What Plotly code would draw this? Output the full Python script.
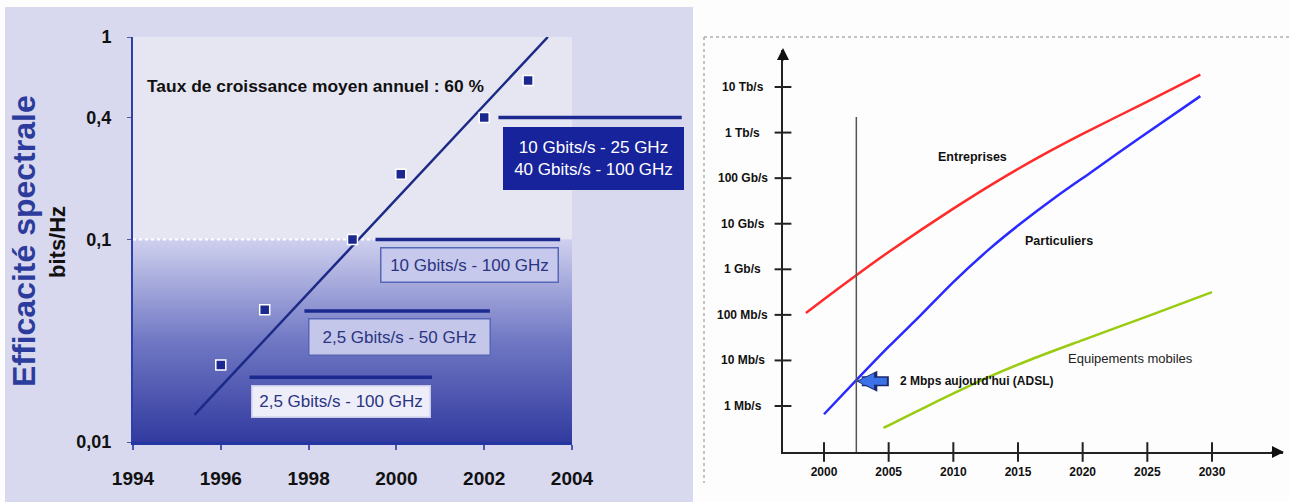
import math
import plotly.graph_objects as go

W, H = 1289, 502
FONT = "Arial, Liberation Sans, sans-serif"

# ---------------- Spectral efficiency (left panel) ----------------
eff_years = [1996, 1997, 1999, 2000.1, 2002, 2003]
eff_values = [0.024, 0.045, 0.1, 0.21, 0.4, 0.61]
trend_years = [1995.4, 2003.45]
trend_values = [0.0136, 1.0]
eff_xticks = [1994, 1996, 1998, 2000, 2002, 2004]
eff_yticks = [0.01, 0.1, 0.4, 1]
eff_yticktext = ["0,01", "0,1", "0,4", "1"]

# WDM systems: label, efficiency level, bar start / end year
sys_labels = [
    "10 Gbits/s - 25 GHz<br>40 Gbits/s - 100 GHz",
    "10 Gbits/s - 100 GHz",
    "2,5 Gbits/s - 50 GHz",
    "2,5 Gbits/s - 100 GHz",
]
sys_levels = [0.4, 0.1, 0.0443, 0.0209]
sys_bar_start = [2002.29, 1999.49, 1997.87, 1996.62]
sys_bar_end = [2006.5, 2003.73, 2002.13, 2000.81]

# ---------------- Bandwidth needs (right panel), rates in Mb/s ----------------
years_ent = [1998.6, 2000, 2002.5, 2005, 2010, 2013.6, 2017, 2020, 2025, 2029.1]
rate_ent = [110, 219, 741, 2400, 21400, 93000, 331000, 933000, 4.8e6, 1.86e7]
years_part = [2000, 2002.5, 2005, 2007.5, 2010, 2012.8, 2015, 2018, 2020.6, 2024.4, 2029.1]
rate_part = [0.66, 3.7, 20, 100, 525, 2800, 9100, 40000, 132000, 760000, 6.3e6]
years_mob = [2004.6, 2008, 2012.8, 2016, 2020, 2025, 2030]
rate_mob = [0.33, 1.0, 4.4, 10.5, 28, 93, 316]
rate_ticks = [1, 10, 100, 1e3, 1e4, 1e5, 1e6, 1e7]
rate_ticktext = ["1 Mb/s", "10 Mb/s", "100 Mb/s", "1 Gb/s", "10 Gb/s",
                 "100 Gb/s", "1 Tb/s", "10 Tb/s"]
year_ticks = [2000, 2005, 2010, 2015, 2020, 2025, 2030]
today_year = 2002.5
today_top = 2.2e6
adsl_rate = 3.5

# axis extents
X1_RANGE = [1994, 2004]
Y1_RANGE = [-2, 0]
X2_RANGE = [1996.83, 2035.49]
Y2_RANGE = [-1.009, 7.812]


def px(x):
    return x / W


def py(y):
    return 1 - y / H


fig = go.Figure()

# plot-area backgrounds of the left panel
lo, hi = 10 ** Y1_RANGE[0], 10 ** Y1_RANGE[1]
fig.add_trace(go.Scatter(
    x=[X1_RANGE[0], X1_RANGE[1], X1_RANGE[1], X1_RANGE[0], X1_RANGE[0]],
    y=[0.1, 0.1, hi, hi, 0.1], fill="toself", fillcolor="#e6e6f3",
    mode="lines", line=dict(width=0), hoverinfo="skip", xaxis="x", yaxis="y"))
fig.add_trace(go.Scatter(
    x=[X1_RANGE[0], X1_RANGE[1], X1_RANGE[1], X1_RANGE[0], X1_RANGE[0]],
    y=[lo, lo, 0.1, 0.1, lo], fill="toself",
    fillgradient=dict(type="vertical",
                      colorscale=[[0, "#323aa0"], [0.5, "#7078c4"], [1, "#cfd0ee"]]),
    mode="lines", line=dict(width=0), hoverinfo="skip", xaxis="x", yaxis="y"))

# white dotted guide at 0.1
fig.add_trace(go.Scatter(
    x=[X1_RANGE[0], sys_bar_start[1]], y=[0.1, 0.1], mode="lines",
    line=dict(color="white", width=2, dash="dot"), hoverinfo="skip",
    xaxis="x", yaxis="y"))

# trend line and measured points
fig.add_trace(go.Scatter(
    x=trend_years, y=trend_values, mode="lines",
    line=dict(color="#1c2a86", width=2.5), hoverinfo="skip", xaxis="x", yaxis="y"))
fig.add_trace(go.Scatter(
    x=eff_years, y=eff_values, mode="markers",
    marker=dict(symbol="square", size=10, color="#1a2890",
                line=dict(color="white", width=1.5)),
    hoverinfo="skip", xaxis="x", yaxis="y", cliponaxis=False))

# right panel curves
for xs, ys, col in [(years_ent, rate_ent, "#ff2a2a"),
                    (years_part, rate_part, "#2a2aff"),
                    (years_mob, rate_mob, "#99cc11")]:
    fig.add_trace(go.Scatter(x=xs, y=ys, mode="lines", line_shape="spline",
                             line=dict(color=col, width=2.5, smoothing=0.8),
                             xaxis="x2", yaxis="y2", hoverinfo="skip"))

# "today" marker line
fig.add_trace(go.Scatter(x=[today_year, today_year], y=[10 ** Y2_RANGE[0], today_top],
                         mode="lines", line=dict(color="#555555", width=1.5),
                         xaxis="x2", yaxis="y2", hoverinfo="skip"))
# tick marks crossing the right axes
fig.add_trace(go.Scatter(x=year_ticks, y=[10 ** Y2_RANGE[0]] * len(year_ticks),
                         mode="markers", cliponaxis=False,
                         marker=dict(symbol="line-ns", size=14,
                                     line=dict(color="#222", width=2)),
                         xaxis="x2", yaxis="y2", hoverinfo="skip"))
fig.add_trace(go.Scatter(x=[X2_RANGE[0]] * len(rate_ticks), y=rate_ticks,
                         mode="markers", cliponaxis=False,
                         marker=dict(symbol="line-ew", size=12,
                                     line=dict(color="#222", width=2)),
                         xaxis="x2", yaxis="y2", hoverinfo="skip"))

shapes = [
    # lavender panel behind the left chart
    dict(type="rect", xref="paper", yref="paper", x0=px(5), x1=px(693), y0=0, y1=py(7),
         fillcolor="#d8d8ef", line=dict(width=0), layer="below"),
    # dotted frame of the right chart
    dict(type="line", xref="paper", yref="paper", x0=px(704), x1=1, y0=py(37), y1=py(37),
         line=dict(color="#888", width=1, dash="dot")),
    dict(type="line", xref="paper", yref="paper", x0=px(704), x1=px(704), y0=py(37), y1=py(483),
         line=dict(color="#888", width=1, dash="dot")),
]

annotations = []

# horizontal bars marking each system
for lvl, x0, x1 in zip(sys_levels, sys_bar_start, sys_bar_end):
    annotations.append(dict(
        xref="x", yref="y", axref="x", ayref="y",
        x=x1, y=math.log10(lvl), ax=x0, ay=math.log10(lvl), text="",
        showarrow=True, arrowhead=0, arrowwidth=3.5, arrowcolor="#1c2a90"))

# label boxes (centre x px, centre y px, width, height, fill, border, text colour)
box_style = [
    (593, 159, 176, 58, "#17239a", "#17239a", "white"),
    (469, 265, 174, 31, "#c6c8ec", "#5866b8", "#2a3480"),
    (399, 337, 178, 33, "#c4c6ea", "#5866b8", "#2a3480"),
    (341, 401, 175, 28, "#eeeefa", "#c8c8e8", "#2a3480"),
]
for label, (bx, by, bw, bh, fill, edge, tc) in zip(sys_labels, box_style):
    annotations.append(dict(
        xref="paper", yref="paper", x=px(bx), y=py(by), xanchor="center", yanchor="middle",
        text=label, showarrow=False,
        width=bw, height=bh, bgcolor=fill, bordercolor=edge, borderwidth=1.5,
        borderpad=1, font=dict(family=FONT, size=17, color=tc), align="center"))

annotations += [
    dict(xref="paper", yref="paper", x=px(145), y=py(86), xanchor="left", yanchor="middle",
         text="Taux de croissance moyen annuel : 60 %", showarrow=False,
         font=dict(family=FONT, size=17.4, color="#111", weight="bold")),
    dict(xref="paper", yref="paper", x=px(24), y=py(241), textangle=-90,
         xanchor="center", yanchor="middle", text="Efficacité spectrale", showarrow=False,
         font=dict(family=FONT, size=32, color="#2c3c9c", weight="bold")),
    dict(xref="paper", yref="paper", x=px(57), y=py(242), textangle=-90,
         xanchor="center", yanchor="middle", text="bits/Hz", showarrow=False,
         font=dict(family=FONT, size=22, color="#111", weight="bold")),
]

# right y tick labels, centred in the gutter
for v, t in zip(rate_ticks, rate_ticktext):
    annotations.append(dict(
        xref="paper", yref="y2", x=px(743), y=math.log10(v), text=t, showarrow=False,
        xanchor="center", yanchor="middle",
        font=dict(family=FONT, size=12, color="#111", weight="bold")))

# axis arrow heads
annotations += [
    dict(xref="paper", yref="paper", x=px(783), y=py(48), ax=0, ay=14, text="",
         showarrow=True, arrowhead=2, arrowsize=1.2, arrowwidth=2, arrowcolor="#111"),
    dict(xref="paper", yref="paper", x=px(1284), y=py(452), ax=-14, ay=0, text="",
         showarrow=True, arrowhead=2, arrowsize=1.2, arrowwidth=2, arrowcolor="#111"),
]

# curve names
annotations += [
    dict(xref="paper", yref="paper", x=px(972), y=py(157), xanchor="center", yanchor="middle",
         text="Entreprises", showarrow=False,
         font=dict(family=FONT, size=12.5, color="#111", weight="bold")),
    dict(xref="paper", yref="paper", x=px(1059), y=py(241), xanchor="center", yanchor="middle",
         text="Particuliers", showarrow=False,
         font=dict(family=FONT, size=12.5, color="#111", weight="bold")),
    dict(xref="paper", yref="paper", x=px(1130), y=py(358), xanchor="center", yanchor="middle",
         text="Equipements mobiles", showarrow=False,
         font=dict(family=FONT, size=13, color="#222")),
]

# ADSL pointer
annotations += [
    dict(xref="x2", yref="y2", x=today_year, y=math.log10(adsl_rate), ax=34, ay=0, text="",
         showarrow=True, arrowhead=2, arrowsize=0.42, arrowwidth=10, arrowcolor="#1a2a70"),
    dict(xref="x2", yref="y2", x=today_year, y=math.log10(adsl_rate), ax=32, ay=0, text="",
         showarrow=True, arrowhead=2, arrowsize=0.45, arrowwidth=7, arrowcolor="#3b72e8",
         standoff=2),
    dict(xref="paper", yref="y2", x=px(898), y=math.log10(adsl_rate), xanchor="left",
         yanchor="middle", text="2 Mbps aujourd'hui (ADSL)", showarrow=False,
         font=dict(family=FONT, size=12, color="#111", weight="bold")),
]

fig.update_layout(
    width=W, height=H, margin=dict(l=0, r=0, t=0, b=0, autoexpand=False),
    paper_bgcolor="#fdfdfd", plot_bgcolor="rgba(0,0,0,0)", showlegend=False,
    shapes=shapes, annotations=annotations,
    xaxis=dict(domain=[px(133), px(572)], range=X1_RANGE, tickvals=eff_xticks,
               automargin=False,
               showgrid=False, zeroline=False, showline=True, linecolor="#2436a0",
               linewidth=3, ticks="outside", ticklen=5, tickwidth=1.5, tickcolor="#4a5ab0",
               ticklabelstandoff=12,
               tickfont=dict(family=FONT, size=19, color="#111", weight="bold")),
    yaxis=dict(domain=[py(442), py(37)], type="log", range=Y1_RANGE, tickvals=eff_yticks,
               automargin=False,
               ticktext=eff_yticktext, showgrid=False, zeroline=False, showline=True,
               linecolor="#3040a8", linewidth=2, ticks="outside", ticklen=4,
               tickcolor="#4a5ab0", ticklabelstandoff=12,
               tickfont=dict(family=FONT, size=18, color="#111", weight="bold")),
    xaxis2=dict(domain=[px(783), px(1283)], range=X2_RANGE, tickvals=year_ticks,
                automargin=False,
                anchor="y2", showgrid=False, zeroline=False, showline=True,
                linecolor="#222", linewidth=2, ticks="", ticklabelstandoff=8,
                tickfont=dict(family=FONT, size=12, color="#111", weight="bold")),
    yaxis2=dict(domain=[py(452), py(50)], type="log", range=Y2_RANGE, anchor="x2",
                automargin=False,
                showgrid=False, zeroline=False, showline=True, linecolor="#222",
                linewidth=2, showticklabels=False, ticks=""),
)

fig.write_html("out.html")
